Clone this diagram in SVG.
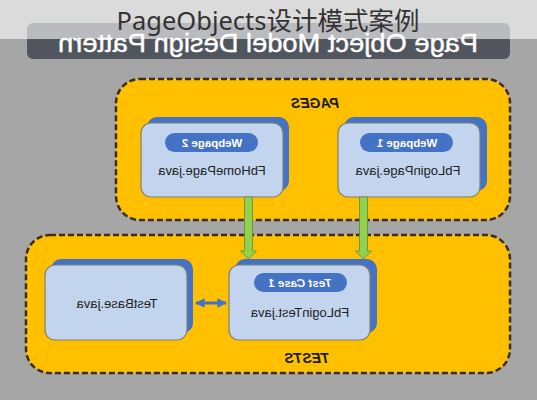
<svg xmlns="http://www.w3.org/2000/svg" width="537" height="400" viewBox="0 0 537 400">
<style>
.grp{fill:#ffc000;stroke:#3b2e14;stroke-width:2.5;stroke-dasharray:6 3}
.grpt{font-family:"Liberation Sans",Arial,sans-serif;font-weight:bold;font-style:italic;font-size:14px;fill:#1a1a1a;text-anchor:middle}
.back{fill:#4472c4}
.front{fill:#c3d5ee;stroke:#80806a;stroke-width:1.2}
.pill{fill:#4472c4}
.pillt{font-family:"Liberation Sans",Arial,sans-serif;font-weight:bold;font-size:11.5px;fill:#ffffff;text-anchor:middle}
.lbl{font-family:"Liberation Sans",Arial,sans-serif;font-size:13px;fill:#222222;text-anchor:middle}
.green{fill:#92d050;stroke:#5f8a3a;stroke-width:0.8}
</style>
<defs>
<marker id="bh" viewBox="0 0 10 10" refX="9" refY="5" markerWidth="3.2" markerHeight="3.2" orient="auto-start-reverse">
<path d="M0,0 L10,5 L0,10 z" fill="#4472c4"/>
</marker>
</defs>
<rect x="0" y="0" width="537" height="400" fill="#a6a6a6"/>
<g id="title-bar">
<rect x="27" y="23" width="483" height="36" rx="6" fill="#51565e"/>
<text transform="scale(-1,1)" x="-268" y="52" text-anchor="middle" font-family="Liberation Sans,Arial,sans-serif" font-size="25" textLength="420" lengthAdjust="spacingAndGlyphs" fill="#ffffff" stroke="#ffffff" stroke-width="0.4">Page Object Model Design Pattern</text>
</g>
<g id="pages">
<rect class="grp" x="116" y="79" width="394" height="141" rx="24"/>
<text class="grpt" transform="scale(-1,1)" x="-315" y="108">PAGES</text>
</g>
<g id="tests">
<rect class="grp" x="26" y="235" width="484" height="138" rx="24"/>
<text class="grpt" transform="scale(-1,1)" x="-307" y="363">TESTS</text>
</g>
<g id="webpage2">
<rect class="back" x="147" y="117" width="142" height="74" rx="10"/>
<rect class="front" x="141" y="123" width="142" height="74" rx="10"/>
<rect class="pill" x="165" y="133" width="93" height="19" rx="9.5"/>
<text class="pillt" transform="scale(-1,1)" x="-212" y="146.5">Webpage 2</text>
<text class="lbl" transform="scale(-1,1)" x="-212" y="175">FbHomePage.java</text>
</g>
<g id="webpage1">
<rect class="back" x="344" y="117" width="143" height="74" rx="10"/>
<rect class="front" x="338" y="123" width="142" height="74" rx="10"/>
<rect class="pill" x="360" y="133" width="93" height="19" rx="9.5"/>
<text class="pillt" transform="scale(-1,1)" x="-407" y="146.5">Webpage 1</text>
<text class="lbl" transform="scale(-1,1)" x="-408" y="175">FbLoginPage.java</text>
</g>
<g id="testbase">
<rect class="back" x="51" y="259" width="142" height="74" rx="10"/>
<rect class="front" x="45" y="265" width="142" height="75" rx="10"/>
<text class="lbl" transform="scale(-1,1)" x="-117" y="308">TestBase.java</text>
</g>
<g id="fblogintest">
<rect class="back" x="235" y="259" width="142" height="74" rx="10"/>
<rect class="front" x="229" y="265" width="141" height="75" rx="10"/>
<rect class="pill" x="254" y="273" width="93" height="19" rx="9.5"/>
<text class="pillt" transform="scale(-1,1)" x="-300" y="286.5" font-style="italic" font-weight="normal">Test Case 1</text>
<text class="lbl" transform="scale(-1,1)" x="-300" y="317">FbLoginTest.java</text>
</g>
<g id="connectors">
<path class="green" d="M244.5,197 L252.5,197 L252.5,251 L256.5,251 L248.5,259 L240.5,251 L244.5,251 z"/>
<path class="green" d="M359.5,197 L367.5,197 L367.5,251 L371.5,251 L363.5,259 L355.5,251 L359.5,251 z"/>
<line x1="196" y1="303" x2="226" y2="303" stroke="#4472c4" stroke-width="3" marker-start="url(#bh)" marker-end="url(#bh)"/>
</g>
<rect x="0" y="0" width="537" height="39" fill="#ffffff" fill-opacity="0.6"/>
<text x="268" y="30" text-anchor="middle" font-family="Noto Sans,Noto Sans CJK SC,sans-serif" font-size="25.5" fill="#333333">PageObjects设计模式案例</text>
</svg>
